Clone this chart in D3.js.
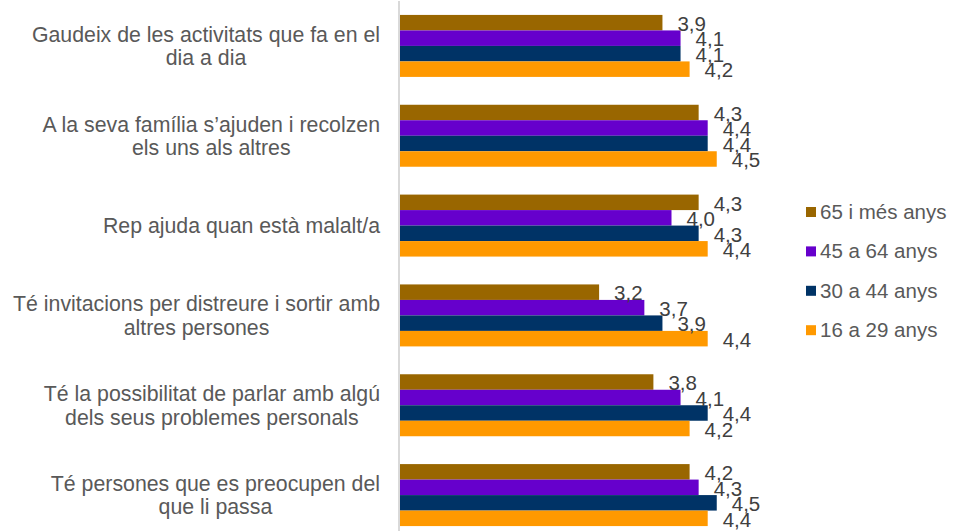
<!DOCTYPE html>
<html>
<head>
<meta charset="utf-8">
<script src="https://cdn.jsdelivr.net/npm/d3@7"></script>
<style>
  html, body { margin: 0; padding: 0; background: #ffffff; }
  svg { display: block; font-family: "Liberation Sans", Arial, sans-serif; }
</style>
</head>
<body>
<svg id="chart" width="953" height="531"></svg>
<script>
// Categories (each entry is the list of wrapped lines of its label)
const categories = [
  ["Gaudeix de les activitats que fa en el", "dia a dia"],
  ["A la seva família s\u2019ajuden i recolzen", "els uns als altres"],
  ["Rep ajuda quan està malalt/a"],
  ["Té invitacions per distreure i sortir amb", "altres persones"],
  ["Té la possibilitat de parlar amb algú", "dels seus problemes personals"],
  ["Té persones que es preocupen del", "que li passa"]
];

// Age groups, top to bottom inside each category
const seriesNames = ["65 i més anys", "45 a 64 anys", "30 a 44 anys", "16 a 29 anys"];
const seriesColors = ["#996600", "#6600CC", "#003366", "#FF9900"];

// Mean score per category, one array per age group
const values65 = [3.9, 4.3, 4.3, 3.2, 3.8, 4.2];
const values45 = [4.1, 4.4, 4.0, 3.7, 4.1, 4.3];
const values30 = [4.1, 4.4, 4.3, 3.9, 4.4, 4.5];
const values16 = [4.2, 4.5, 4.4, 4.4, 4.2, 4.4];
const seriesValues = [values65, values45, values30, values16];

// Value axis (1 to 5 scale)
const valueDomain = [1, 5];

const svg = d3.select("#chart");
const catKeys = categories.map((c, i) => i);

const x = d3.scaleLinear().domain(valueDomain).range([400, 762]);
const y = d3.scaleBand().domain(catKeys).range([1, 540])
  .paddingInner(0.31).paddingOuter(0.155);
const ySub = d3.scaleBand().domain(d3.range(seriesNames.length))
  .range([0, y.bandwidth()]);

// Bars
const groups = svg.append("g").selectAll("g")
  .data(catKeys)
  .join("g")
  .attr("transform", d => `translate(0,${y(d)})`);

groups.selectAll("rect")
  .data(ci => seriesValues.map((vals, si) => ({ si, v: vals[ci] })))
  .join("rect")
  .attr("x", x(valueDomain[0]))
  .attr("y", d => ySub(d.si))
  .attr("width", d => x(d.v) - x(valueDomain[0]))
  .attr("height", ySub.bandwidth())
  .attr("fill", d => seriesColors[d.si]);

// Value labels
const fmt = v => d3.format(".1f")(v).replace(".", ",");
groups.selectAll("text.val")
  .data(ci => seriesValues.map((vals, si) => ({ si, v: vals[ci] })))
  .join("text")
  .attr("class", "val")
  .attr("x", d => x(d.v) + 15)
  .attr("y", d => ySub(d.si) + ySub.bandwidth() + 0.5)
  .attr("font-size", 20.5)
  .attr("fill", "#404040")
  .text(d => fmt(d.v));

// Vertical category axis line
svg.append("line")
  .attr("x1", 399).attr("x2", 399)
  .attr("y1", 1).attr("y2", 531)
  .attr("stroke", "#d9d9d9")
  .attr("stroke-width", 2);

// Category labels: block right-aligned to the axis, lines centred within the block
const labelRight = 380;
const lineH = 23.5;
const catLabels = svg.append("g")
  .attr("font-size", 21.3)
  .attr("fill", "#595959");

catKeys.forEach(ci => {
  const lines = categories[ci];
  const t = catLabels.append("text").attr("text-anchor", "middle");
  const spans = lines.map(s => t.append("tspan").text(s));
  const widths = spans.map(sp => sp.node().getComputedTextLength());
  const blockW = d3.max(widths);
  const cx = labelRight - blockW / 2;
  const cy = y(ci) + y.bandwidth() / 2;
  const firstBase = cy - (lines.length - 1) * lineH / 2 + 7.5;
  spans.forEach((sp, i) => sp.attr("x", cx).attr("y", firstBase + i * lineH));
});

// Legend
const legend = svg.append("g").selectAll("g")
  .data(seriesNames)
  .join("g")
  .attr("transform", (d, i) => `translate(806,${212 + i * 39.4})`);

legend.append("rect")
  .attr("x", 0).attr("y", -5)
  .attr("width", 10).attr("height", 10)
  .attr("fill", (d, i) => seriesColors[i]);

legend.append("text")
  .attr("x", 14).attr("y", 7)
  .attr("font-size", 20.5)
  .attr("fill", "#595959")
  .text(d => d);
</script>
</body>
</html>
